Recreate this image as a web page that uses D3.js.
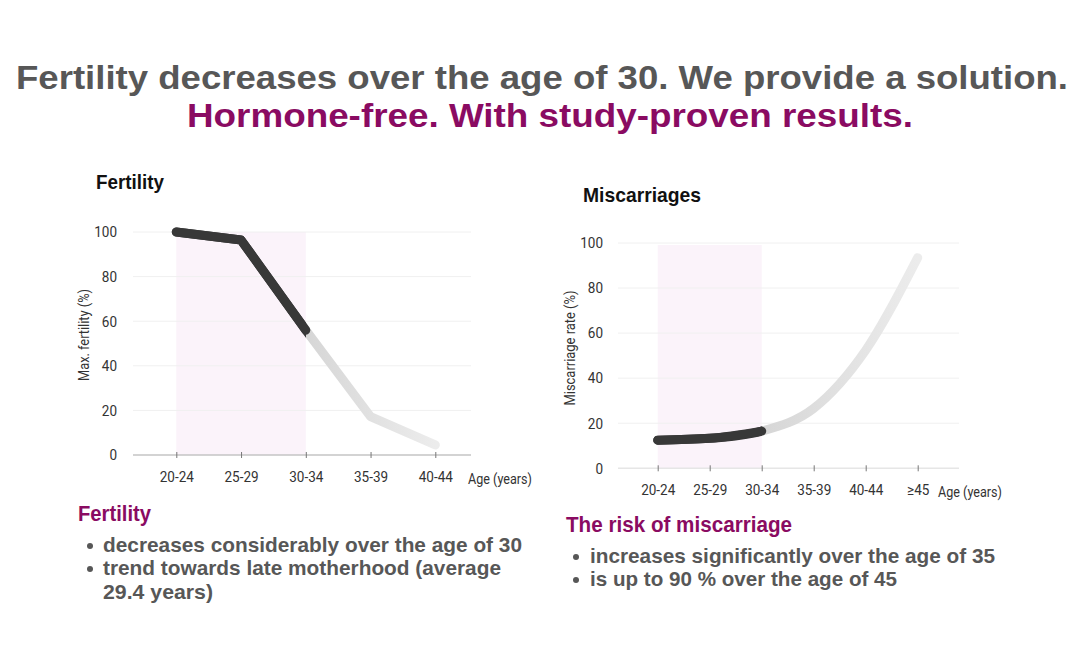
<!DOCTYPE html>
<html><head><meta charset="utf-8">
<script src="https://cdn.jsdelivr.net/npm/d3@7"></script>
<style>body{margin:0;background:#fff}svg{display:block}</style>
</head><body>
<svg id="c" width="1085" height="649"></svg>
<script>
const fertilityAges = ["20-24","25-29","30-34","35-39","40-44"];
const fertilityValues = [100, 96.4, 56, 17.2, 4.5];
const miscarriageAges = ["20-24","25-29","30-34","35-39","40-44","≥45"];
const miscarriageValues = [12.5, 13.3, 16.5, 26.6, 52.4, 93.5];
const yTicks = [0,20,40,60,80,100];
const highlightAges = ["20-24","30-34"];

const svg = d3.select("#c");
const defs = svg.append("defs");
const PURPLE = "#8a0b62", GRAY = "#575757";
const FONT = "Roboto, 'Liberation Sans', sans-serif";
const BOLD = "'Liberation Sans', Arial, Helvetica, sans-serif";
const SQ = 0.9;

function fitText(sel, x, y, txt, len, size, color, weight, family, anchor){
  return sel.append("text").attr("x",x).attr("y",y).text(txt)
    .attr("font-size",size).attr("fill",color).attr("font-weight",weight)
    .attr("font-family",family).attr("text-anchor",anchor||"start")
    .attr("textLength",len).attr("lengthAdjust","spacingAndGlyphs");
}
function squeeze(sel){
  sel.each(function(){
    const w = this.getComputedTextLength();
    d3.select(this).attr("textLength", w*SQ).attr("lengthAdjust","spacingAndGlyphs");
  });
}

fitText(svg, 542, 89, "Fertility decreases over the age of 30. We provide a solution.", 1052, 33, GRAY, "bold", BOLD, "middle");
fitText(svg, 550, 127, "Hormone-free. With study-proven results.", 726, 33, PURPLE, "bold", BOLD, "middle");

function chart(o){
  const g = svg.append("g");
  const x = d3.scalePoint().domain(o.cats).range([o.x0, o.x1]);
  const y = d3.scaleLinear().domain([0,100]).range([o.yb, o.yt]);
  g.append("rect").attr("x", x(highlightAges[0])).attr("width", x(highlightAges[1]) - x(highlightAges[0]))
    .attr("y", y(100)+ (o.bandOff||0)).attr("height", y(0) - y(100) - (o.bandOff||0)).attr("fill", "#fbf3fa");
  g.selectAll(".grid").data(yTicks.filter(d=>d>0)).join("line")
    .attr("x1", o.gx0).attr("x2", o.gx1).attr("y1", d=>y(d)).attr("y2", d=>y(d))
    .attr("stroke", "#f0f0f0").attr("stroke-width", 1);
  g.append("line").attr("x1", o.gx0).attr("x2", o.gx1).attr("y1", y(0)).attr("y2", y(0))
    .attr("stroke", o.axisColor).attr("stroke-width", 1.5);
  const xa = g.append("g").attr("transform", `translate(0,${y(0)})`)
    .call(d3.axisBottom(x).tickSize(3).tickPadding(13));
  xa.select(".domain").remove();
  xa.selectAll(".tick line").attr("y1", -3).attr("stroke", "#777");
  xa.selectAll(".tick text").attr("font-family", FONT).attr("font-size", 15).attr("fill", "#333").attr("font-weight", 400).call(squeeze);
  const ya = g.append("g").attr("transform", `translate(${o.labX},0)`)
    .call(d3.axisLeft(y).tickValues(yTicks).tickSize(0).tickPadding(0));
  ya.select(".domain").remove();
  ya.selectAll(".tick text").attr("font-family", FONT).attr("font-size", 15).attr("fill", "#333").attr("font-weight", 400).call(squeeze);
  g.append("text").attr("x", o.ageX).attr("y", y(0)+29).text("Age (years)")
    .attr("font-family", FONT).attr("font-size", 15).attr("fill", "#333").attr("font-weight", 400)
    .attr("textLength", o.ageLen).attr("lengthAdjust","spacingAndGlyphs");
  g.append("text").attr("transform", `translate(${o.ytX},${o.ytY}) rotate(-90)`).attr("text-anchor","middle")
    .text(o.ytitle).attr("font-family", FONT).attr("font-size", 14).attr("fill", "#333").attr("font-weight", 400)
    .attr("textLength", o.ytLen).attr("lengthAdjust","spacingAndGlyphs");
  fitText(g, o.tX, o.tY, o.title, o.tLen, 21, "#111", "bold", BOLD);
  const id = "grad" + o.id;
  const gr = defs.append("linearGradient").attr("id", id).attr("gradientUnits","userSpaceOnUse")
    .attr("x1", o.x0).attr("x2", o.x1).attr("y1", 0).attr("y2", 0);
  const split = (x(highlightAges[1]) - o.x0) / (o.x1 - o.x0);
  gr.append("stop").attr("offset", 0).attr("stop-color", "#383838");
  gr.append("stop").attr("offset", split).attr("stop-color", "#383838");
  gr.append("stop").attr("offset", split).attr("stop-color", "#d6d6d6");
  gr.append("stop").attr("offset", 1).attr("stop-color", "#ececec");
  const line = d3.line().x((d,i)=>x(o.cats[i])).y(d=>y(d)).curve(o.curve);
  g.append("path").attr("d", line(o.vals)).attr("fill","none").attr("stroke", `url(#${id})`)
    .attr("stroke-width", 9).attr("stroke-linecap","round").attr("stroke-linejoin","round");
  const k = o.cats.indexOf(highlightAges[1]);
  g.append("path").attr("d", line(o.vals.slice(0,k+1))).attr("fill","none").attr("stroke", "#383838")
    .attr("stroke-width", 9).attr("stroke-linecap","round").attr("stroke-linejoin","round");
}

chart({id:1, cats: fertilityAges, vals: fertilityValues, x0:176.3, x1:435.3, yb:455, yt:232,
  gx0:133, gx1:471, labX:117, ageX:468, ageLen:64, ytX:89, ytY:335, ytitle:"Max. fertility (%)", ytLen:92,
  title:"Fertility", tX:96, tY:189, tLen:68, axisColor:"#c4c4c4", curve:d3.curveLinear});
chart({id:2, cats: miscarriageAges, vals: miscarriageValues, x0:657.7, x1:917.7, yb:468.3, yt:243,
  gx0:618, gx1:959, labX:603, ageX:938, ageLen:64, ytX:575, ytY:348, ytitle:"Miscarriage rate (%)", ytLen:115, bandOff:2,
  title:"Miscarriages", tX:583, tY:202, tLen:118, axisColor:"#e6e6e6", curve:d3.curveMonotoneX});

fitText(svg, 78, 521, "Fertility", 73, 22, PURPLE, "bold", BOLD);
const bl = [["decreases considerably over the age of 30", 419, 552], ["trend towards late motherhood (average", 398, 575], ["29.4 years)", 110, 599]];
fitText(svg, 566, 532, "The risk of miscarriage", 226, 22, PURPLE, "bold", BOLD);
const br = [["increases significantly over the age of 35", 405, 563], ["is up to 90 % over the age of 45", 307, 586]];
function bullets(list, bx, tx){
  list.forEach((d,i)=>{
    if (!(list===bl && i===2)) svg.append("circle").attr("cx", bx).attr("cy", d[2]-6).attr("r", 3).attr("fill", GRAY);
    fitText(svg, tx, d[2], d[0], d[1], 21, GRAY, "bold", BOLD);
  });
}
bullets(bl, 90, 103);
bullets(br, 576, 590);
</script>
</body></html>
